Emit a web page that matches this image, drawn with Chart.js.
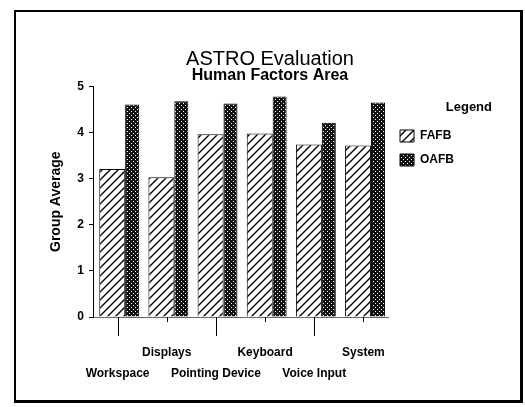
<!DOCTYPE html>
<html><head><meta charset="utf-8">
<script src="https://cdn.jsdelivr.net/npm/chart.js@4.4.1/dist/chart.umd.min.js"></script>
<style>
html,body{margin:0;padding:0;background:#fff}
#wrap{position:relative;width:525px;height:407px;overflow:hidden}
#c{position:absolute;left:0;top:0}
#frame{position:absolute;left:14px;top:10px;width:504px;height:388px;border:2px solid #000;border-right-width:3px;border-bottom-width:3px;pointer-events:none}
</style>
</head><body>
<div id="wrap"><canvas id="c" width="525" height="407"></canvas><div id="frame"></div></div>
<script>
// ---- data ----
const categories = ['Workspace', 'Displays', 'Pointing Device', 'Keyboard', 'Voice Input', 'System'];
const seriesNames = ['FAFB', 'OAFB'];
const fafbValues = [3.21, 3.03, 3.96, 3.98, 3.74, 3.72];
const oafbValues = [4.61, 4.68, 4.63, 4.78, 4.21, 4.65];
const yTickValues = [0, 1, 2, 3, 4, 5];

// ---- fills ----
function hatchPattern(ctx) {
  const s = 8;
  const c = document.createElement('canvas');
  c.width = s; c.height = s;
  const g = c.getContext('2d');
  g.fillStyle = '#fff'; g.fillRect(0, 0, s, s);
  g.strokeStyle = '#000'; g.lineWidth = 1.4;
  g.beginPath();
  g.moveTo(-1, s + 1); g.lineTo(s + 1, -1);
  g.moveTo(-1, 1); g.lineTo(1, -1);
  g.moveTo(s - 1, s + 1); g.lineTo(s + 1, s - 1);
  g.stroke();
  return ctx.createPattern(c, 'repeat');
}
function dotPattern(ctx) {
  const s = 4;
  const c = document.createElement('canvas');
  c.width = s; c.height = s;
  const g = c.getContext('2d');
  g.fillStyle = '#111'; g.fillRect(0, 0, s, s);
  g.fillStyle = '#fff';
  g.fillRect(1, 1, 1, 1);
  g.fillRect(3, 3, 1, 1);
  return ctx.createPattern(c, 'repeat');
}

const canvas = document.getElementById('c');
const ctx = canvas.getContext('2d');
Chart.defaults.font.family = "'Liberation Sans', Arial, Helvetica, sans-serif";
Chart.defaults.color = '#000';

// legend width (library legend, widened so its title sits at the right)
const legendWidthPlugin = {
  id: 'legendWidth',
  beforeLayout(chart, args, opts) {
    const lg = chart.legend;
    if (lg && !lg._widthPatched) {
      const orig = lg.fit;
      lg.fit = function () { orig.call(this); this.width = opts.width; };
      lg._widthPatched = true;
    }
  }
};

// staggered category tick marks
const tickMarksPlugin = {
  id: 'tickMarks',
  afterDatasetsDraw(chart, args, opts) {
    const xs = chart.scales.x;
    const c = chart.ctx;
    c.save();
    c.strokeStyle = '#000';
    c.lineWidth = 1;
    xs.ticks.forEach((t, i) => {
      const px = Math.round(xs.getPixelForTick(i)) + 0.5;
      const len = i % 2 === 0 ? opts.longLength : opts.shortLength;
      c.beginPath();
      c.moveTo(px, xs.top);
      c.lineTo(px, xs.top + len);
      c.stroke();
    });
    c.restore();
  }
};

new Chart(ctx, {
  type: 'bar',
  data: {
    labels: categories,
    datasets: [
      {
        label: seriesNames[0],
        data: fafbValues,
        backgroundColor: hatchPattern(ctx),
        borderColor: '#000',
        borderWidth: 1,
        categoryPercentage: 0.435,
        barPercentage: 2.43
      },
      {
        label: seriesNames[1],
        data: oafbValues,
        backgroundColor: dotPattern(ctx),
        borderColor: '#000',
        borderWidth: 1,
        categoryPercentage: 1.184,
        barPercentage: 0.481
      }
    ]
  },
  options: {
    responsive: false,
    animation: false,
    events: [],
    devicePixelRatio: 1,
    layout: { padding: { left: 48, right: 33, top: 0, bottom: 23 } },
    scales: {
      x: {
        afterFit(scale) { scale.height = 67; },
        grid: { display: false, drawTicks: false, offset: false },
        border: { display: true, color: '#666', width: 1 },
        ticks: {
          autoSkip: false,
          maxRotation: 0,
          minRotation: 0,
          padding: 25,
          font: { size: 12, weight: 'bold', lineHeight: 1.75 },
          callback(value, index) {
            const l = this.getLabelForValue(value);
            return index % 2 === 0 ? ['', l] : [l];
          }
        }
      },
      y: {
        min: 0,
        max: 5,
        afterBuildTicks(scale) { scale.ticks = yTickValues.map(v => ({ value: v })); },
        afterFit(scale) { scale.width = 45; },
        grid: { display: true, drawOnChartArea: false, drawTicks: true, tickLength: 4, color: '#000' },
        border: { display: true, color: '#000', width: 1 },
        ticks: { padding: 5, font: { size: 12, weight: 'bold' } },
        title: {
          display: true,
          text: 'Group Average',
          font: { size: 14, weight: 'bold' },
          padding: { top: 0, bottom: 0 }
        }
      }
    },
    plugins: {
      title: {
        display: true,
        text: 'ASTRO Evaluation',
        font: { size: 20, weight: 'normal', lineHeight: 0.9 },
        padding: { top: 50, bottom: 0 }
      },
      subtitle: {
        display: true,
        text: 'Human Factors Area',
        font: { size: 16, weight: 'bold', lineHeight: 0.9 },
        padding: { top: 0, bottom: 4 }
      },
      legend: {
        position: 'right',
        align: 'start',
        fullSize: false,
        labels: {
          boxWidth: 14,
          boxHeight: 12,
          padding: 12,
          font: { size: 12, weight: 'bold' }
        },
        title: {
          display: true,
          text: 'Legend',
          position: 'end',
          font: { size: 13, weight: 'bold' },
          padding: { top: 15, bottom: 1 }
        }
      },
      legendWidth: { width: 104 },
      tickMarks: { longLength: 19, shortLength: 5 },
      tooltip: { enabled: false }
    }
  },
  plugins: [legendWidthPlugin, tickMarksPlugin]
});
</script>
</body></html>
